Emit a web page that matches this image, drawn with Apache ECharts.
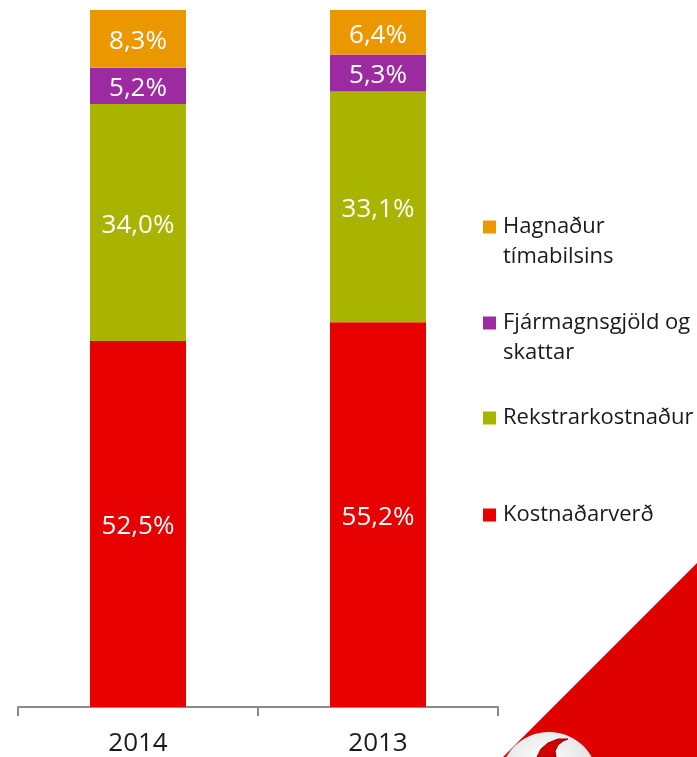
<!DOCTYPE html>
<html>
<head>
<meta charset="utf-8">
<script src="https://cdn.jsdelivr.net/npm/echarts@6/dist/echarts.min.js"></script>
<style>
  html, body { margin: 0; padding: 0; background: #fff; }
  #chart { width: 697px; height: 757px; }
</style>
</head>
<body>
<div id="chart"></div>
<script>
// flokkar og gildi (%)
var years = ['2014', '2013'];
var seriesNames = ['Kostnaðarverð', 'Rekstrarkostnaður', 'Fjármagnsgjöld og skattar', 'Hagnaður tímabilsins'];
var legendLabels = ['Kostnaðarverð', 'Rekstrarkostnaður', 'Fjármagnsgjöld og\nskattar', 'Hagnaður\ntímabilsins'];
var kostnadarverd = [52.5, 55.2];
var rekstrarkostnadur = [34.0, 33.1];
var fjarmagnsgjold = [5.2, 5.3];
var hagnadur = [8.3, 6.4];

var colors = ['#e60000', '#a8b400', '#9c2aa0', '#eb9800'];
var fontFamily = '"Open Sans", "Noto Sans", sans-serif';

var chart = echarts.init(document.getElementById('chart'));

// prósentur með kommu
function pct(p) {
  return p.value.toFixed(1).replace('.', ',') + '%';
}

function makeSeries(i, data) {
  return {
    name: seriesNames[i],
    type: 'bar',
    stack: 'total',
    barWidth: 96,
    data: data,
    itemStyle: { color: colors[i] },
    label: {
      show: true,
      position: 'inside',
      offset: [0, 3],
      formatter: pct,
      color: '#fff',
      fontSize: 26,
      fontFamily: fontFamily
    }
  };
}

// eitt legend fyrir hvern lið; auð lína fyrst svo merkið standi við fyrstu línu
var legendTops = [500, 403, 278, 182];
var legends = [];
for (var i = 3; i >= 0; i--) {
  var label = legendLabels[i].indexOf('\n') > -1 ? '\n' + legendLabels[i] : legendLabels[i];
  legends.push({
    orient: 'vertical',
    left: 483,
    top: legendTops[i],
    padding: 0,
    itemWidth: 13,
    itemHeight: 13,
    icon: 'rect',
    selectedMode: false,
    data: [seriesNames[i]],
    formatter: (function (l) { return function () { return l; }; })(label),
    textStyle: {
      fontSize: 22,
      lineHeight: 30,
      color: '#1a1a1a',
      fontFamily: fontFamily,
      padding: [0, 0, 0, 2]
    }
  });
}

var option = {
  animation: false,
  backgroundColor: '#fff',
  legend: legends,
  grid: {
    left: 18,
    right: 199,
    top: 10,
    bottom: 48
  },
  xAxis: {
    type: 'category',
    data: years,
    axisLine: { lineStyle: { color: '#8a8a8a', width: 2 } },
    axisTick: { show: true, length: 9, lineStyle: { color: '#8a8a8a', width: 2 } },
    axisLabel: {
      color: '#1a1a1a',
      fontSize: 26,
      fontFamily: fontFamily,
      margin: 24
    }
  },
  yAxis: {
    type: 'value',
    min: 0,
    max: 100,
    show: false
  },
  series: [
    makeSeries(0, kostnadarverd),
    makeSeries(1, rekstrarkostnadur),
    makeSeries(2, fjarmagnsgjold),
    makeSeries(3, hagnadur)
  ],
  // Vodafone skraut neðst til hægri
  graphic: [
    {
      type: 'polygon',
      silent: true,
      z: -1,
      shape: { points: [[697, 563], [697, 757], [503, 757]] },
      style: { fill: '#df0000' }
    },
    {
      type: 'circle',
      silent: true,
      shape: { cx: 549, cy: 781, r: 49 },
      style: {
        fill: {
          type: 'radial', x: 0.45, y: 0.35, r: 0.7,
          colorStops: [
            { offset: 0, color: '#ffffff' },
            { offset: 0.7, color: '#e4e4e4' },
            { offset: 1, color: '#b8b8b8' }
          ]
        }
      }
    },
    {
      type: 'polygon',
      silent: true,
      shape: {
        points: [[568, 739], [558, 739], [548, 743], [541, 749], [537, 757],
                 [556, 757], [555, 751], [558, 745], [563, 741]]
      },
      style: { fill: '#d40000', stroke: '#8e0000', lineWidth: 1 }
    }
  ]
};

chart.setOption(option);
</script>
</body>
</html>
